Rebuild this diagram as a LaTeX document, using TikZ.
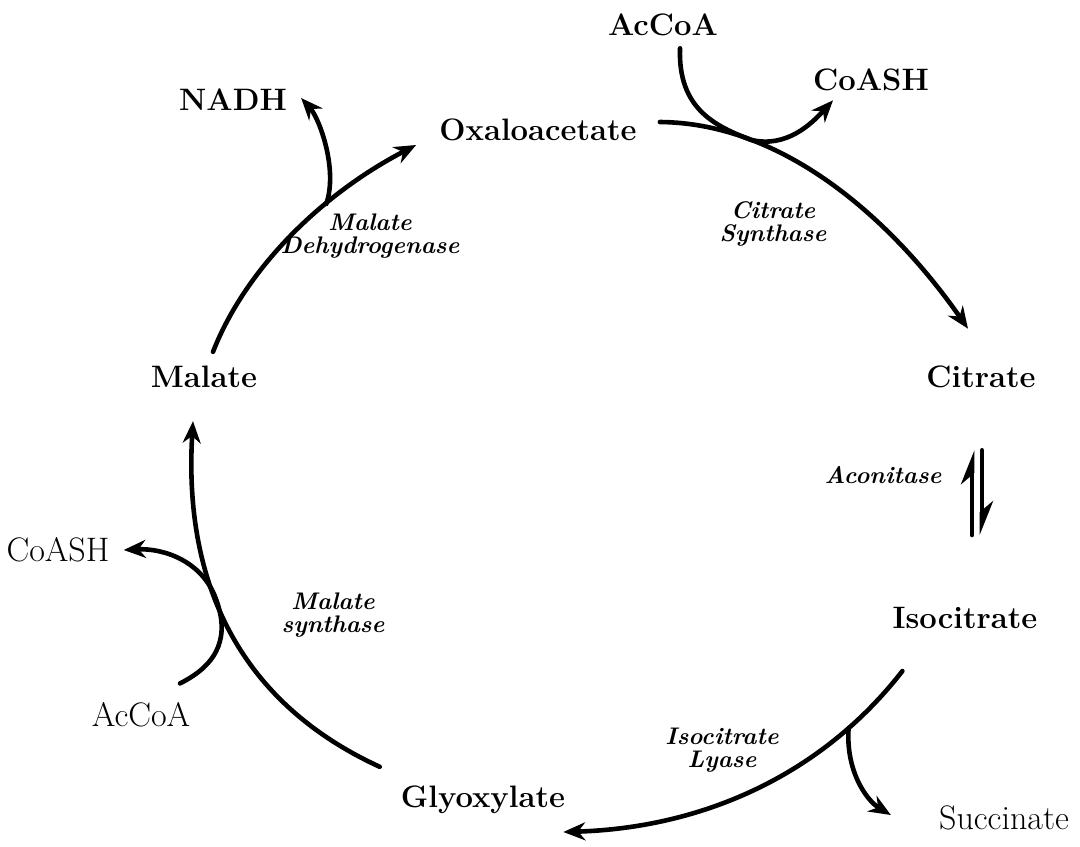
\documentclass[tikz,border=0pt]{standalone}
\usetikzlibrary{arrows.meta}
\begin{document}
\begin{tikzpicture}[x=0.5pt, y=-0.5pt, line width=2.3pt, line cap=round,
        met/.style = {font=\fontsize{15.5}{17}\selectfont\bfseries, inner sep=2pt},
        side/.style = {font=\fontsize{17}{19}\selectfont, inner sep=2pt},
        enz/.style = {font=\fontsize{12}{11.5}\selectfont\bfseries\itshape, align=center, inner sep=1pt},
        flow/.style = {-{Stealth[length=11pt, width=9pt]}},
        harp/.style = {-{Stealth[harpoon, length=14pt, width=11pt]}}]
    \useasboundingbox (0,0) rectangle (1080,846);
    % cycle intermediates
    \node[met] (oaa) at (538,130) {Oxaloacetate};
    \node[met] (cit) at (981,377) {Citrate};
    \node[met] (icit) at (965,618) {Isocitrate};
    \node[met] (glx) at (483,800) {Glyoxylate};
    \node[met] (mal) at (204,377) {Malate};
    % side products
    \node[met] (accoa1) at (663,25) {AcCoA};
    \node[met] (coash1) at (871,80) {CoASH};
    \node[met] (nadh) at (233,100) {NADH};
    \node[side] (coash2) at (58,550) {CoASH};
    \node[side] (accoa2) at (141,715) {AcCoA};
    \node[side] (succ) at (1004,818) {Succinate};
    % enzymes
    \node[enz] (cs) at (773,224) {Citrate\\Synthase};
    \node[enz] (aco) at (883,475) {Aconitase};
    \node[enz] (icl) at (722,750) {Isocitrate\\Lyase};
    \node[enz] (ms) at (333,615) {Malate\\synthase};
    \node[enz] (mdh) at (370,236) {Malate\\Dehydrogenase};
    % main arcs
    \draw[flow] ([shift={(17,-8)}]oaa.east) .. controls (787,123) and (895,224) .. coordinate[pos=0.25] (j2) ([shift={(-13,-31)}]cit.north);
    \draw[harp, shorten <=33pt, shorten >=28pt] ([shift={(7,0)}]icit.north) -- ([shift={(-9,0)}]cit.south);
    \draw[harp, shorten <=28pt, shorten >=33pt] ([shift={(1,0)}]cit.south) -- ([shift={(17,0)}]icit.north);
    \draw[flow] ([shift={(16,36)}]icit.south west) .. controls (820,777) and (700,828) .. coordinate[pos=0.2] (j3) ([shift={(-8,32)}]glx.east);
    \draw[flow] ([shift={(-15,-13)}]glx.north west) .. controls (245,705) and (183,590) .. coordinate[pos=0.6] (j4) ([shift={(-11,27)}]mal.south);
    \draw[flow] ([shift={(9,-8)}]mal.north) .. controls (245,270) and (320,195) .. coordinate[pos=0.66] (j1) ([shift={(-17,15)}]oaa.west);
    % side branches
    \draw[flow] ([shift={(17,6)}]accoa1.south) .. controls +(-2,60) and +(-37,-14) .. (j2) .. controls +(35,8) and +(-22,24) .. ([shift={(-38,3)}]coash1.south);
    \draw[flow] (j1) .. controls +(12,-35) and +(18,20) .. ([shift={(8,-2)}]nadh.east);
    \draw[flow] (j3) .. controls +(-3,42) and +(-25,-15) .. ([shift={(-42,-3)}]succ.west);
    \draw[flow] ([shift={(39,-13)}]accoa2.north) .. controls +(40,-20) and +(14,37) .. (j4) .. controls +(-14,-37) and +(40,-2) .. ([shift={(8,0)}]coash2.east);
\end{tikzpicture}
\end{document}
